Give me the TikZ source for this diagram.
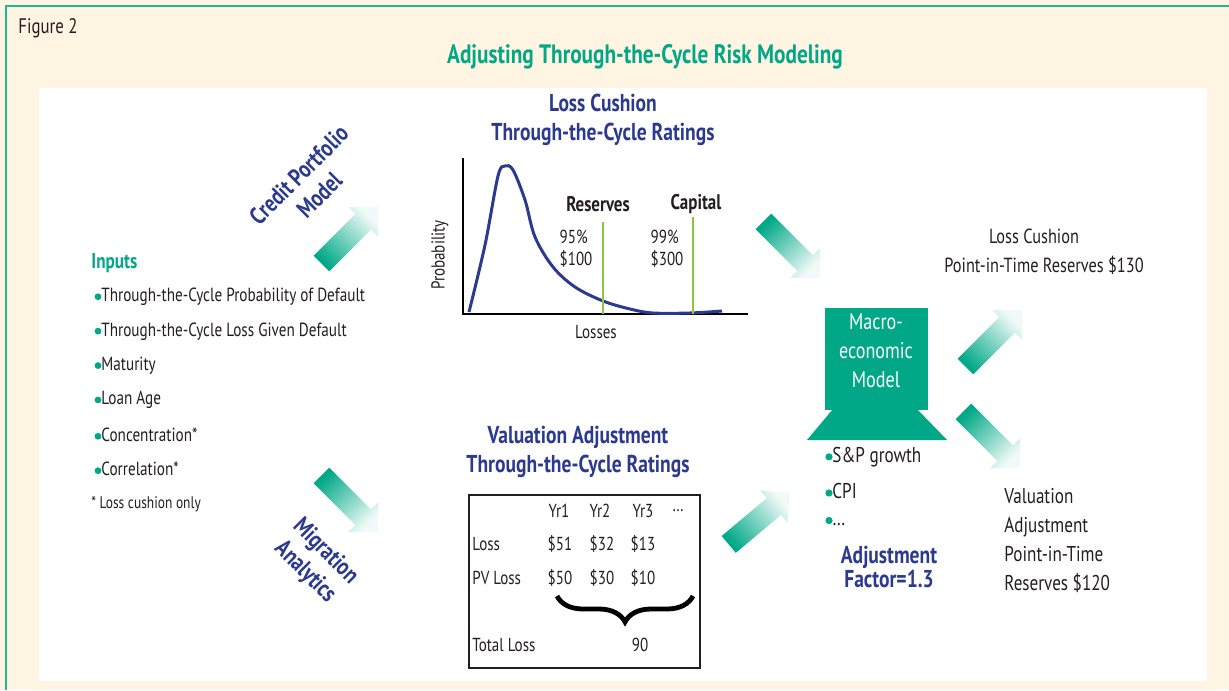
\documentclass[tikz,border=0pt]{standalone}
\usepackage{fontspec}
\setmainfont{PT Sans}[FakeStretch=0.8]
\usetikzlibrary{positioning,decorations.pathreplacing}

\definecolor{figteal}{HTML}{00A887}
\definecolor{figframe}{HTML}{1DB894}
\definecolor{figcream}{HTML}{FFF5E2}
\definecolor{fignavy}{HTML}{2B3A8F}
\definecolor{figgreen}{HTML}{8DC63F}
\definecolor{figtext}{HTML}{231F20}

% block arrow fading from teal to white: tip, direction, shading angle
\newcommand{\fadearrow}[3]{%
  \begin{scope}[shift={(#1)}, rotate=#2]
    \shade[top color=figteal!6, bottom color=figteal, shading angle=#3]
      (-80,-11) -- (-21,-11) -- (-21,-21) -- (0,0) -- (-21,21) -- (-21,11) -- (-80,11) -- cycle;
  \end{scope}}

\begin{document}
\begin{tikzpicture}[x=0.5pt, y=-0.5pt,
    every node/.style={inner sep=0pt, text=figtext},
    ttl/.style={font=\bfseries\fontsize{12.2}{14.5}\selectfont, text=fignavy, align=center},
    body/.style={font=\fontsize{9.5}{11}\selectfont, anchor=west},
    small/.style={font=\fontsize{9.4}{11}\selectfont},
    big/.style={font=\fontsize{11.3}{14.5}\selectfont},
    limitline/.style={figgreen, line width=1.3pt},
    axisline/.style={black, line width=1.2pt}]
  \useasboundingbox (0,0) rectangle (1229,690);
  \fill[figcream] (0,0) rectangle (1229,690);
  \draw[figframe, line width=1pt] (6,690) -- (6,6) -- (1229,6);
  \fill[white] (39,88) rectangle (1207,681);

  \node[anchor=west, font=\fontsize{10.5}{12}\selectfont] (fig) at (18,28) {Figure 2};
  \node[font=\bfseries\fontsize{13.3}{14}\selectfont, text=figteal] (title) at (645,57)
    {Adjusting Through-the-Cycle Risk Modeling};

  % inputs
  \node[anchor=west, font=\bfseries\fontsize{10.7}{12}\selectfont, text=figteal] (inputs) at (91,263) {Inputs};
  \foreach \txt [count=\i from 0] in {Through-the-Cycle Probability of Default,
      Through-the-Cycle Loss Given Default, Maturity, Loan Age, Concentration*, Correlation*} {
    \node[body] (input\i) at (101,297+34.4*\i) {\txt};
    \fill[figteal] ([xshift=-1.5]input\i.base west) ++(0,-5) circle (3.4);
  }
  \node[font=\fontsize{8.4}{11}\selectfont, anchor=west] (note) at (91,504) {* Loss cushion only};

  % loss distribution
  \node[ttl] (lcttl) at (603,120) {Loss Cushion\\Through-the-Cycle Ratings};
  \draw[axisline] (463,158) -- (463,314) -- (748,314);
  \draw[fignavy, line width=1.5pt] plot[smooth, tension=0.55] coordinates {(469,312) (485,245) (498,176)
    (505,166) (513,170) (525,200) (535,237) (553,267) (575,287) (603,301) (630,309) (653,313) (690,313) (722,311)};
  \draw[limitline] (603,222) -- (603,314);
  \draw[limitline] (693,217) -- (693,314);
  \node[font=\bfseries\fontsize{10.6}{11}\selectfont] (res) at (598,204) {Reserves};
  \node[font=\bfseries\fontsize{10.6}{11}\selectfont] (cap) at (696,204) {Capital};
  \node[small, align=left] (resval) at (576,249) {95\%\\\$100};
  \node[small, align=left] (capval) at (667,249) {99\%\\\$300};
  \node[small, rotate=90] (prob) at (440,255) {Probability};
  \node[small] (loss) at (596,332) {Losses};

  % valuation table
  \node[ttl] (vattl) at (578,452) {Valuation Adjustment\\Through-the-Cycle Ratings};
  \draw[figtext, line width=0.7pt] (469,495) rectangle (700,668);
  \node[small] (yr1) at (559,511) {Yr1};
  \node[small] (yr2) at (600,511) {Yr2};
  \node[small] (yr3) at (643,511) {Yr3};
  \node[small] (yrn) at (678,511) {\ldots};
  \node[small, anchor=west] (lossrow) at (472,544) {Loss};
  \node[small] (l1) at (560,544) {\$51};
  \node[small] (l2) at (602,544) {\$32};
  \node[small] (l3) at (643,544) {\$13};
  \node[small, anchor=west] (pvrow) at (472,578) {PV Loss};
  \node[small] (p1) at (560,578) {\$50};
  \node[small] (p2) at (602,578) {\$30};
  \node[small] (p3) at (643,578) {\$10};
  \draw[decorate, decoration={brace, mirror, amplitude=13pt}, line width=2.4pt] (557,596) -- (693,596);
  \node[small, anchor=west] (totrow) at (472,645) {Total Loss};
  \node[small] (tot) at (640,645) {90};

  % side labels
  \node[ttl, rotate=45] (cpm) at (309,185) {Credit Portfolio\\Model};
  \node[ttl, rotate=-45] (mig) at (315,562) {Migration\\Analytics};

  % macroeconomic model
  \fill[figteal] (825,308) rectangle (928,410);
  \fill[figteal] (833,409) -- (917,409) -- (947,440) -- (807,440) -- cycle;
  \node[big, align=center, text=white] (macro) at (876,351) {Macro-\\economic\\Model};
  \foreach \txt [count=\i from 0] in {S\&P growth, CPI, \ldots} {
    \node[anchor=west, font=\fontsize{10.7}{12}\selectfont] (drv\i) at (832,457+34*\i) {\txt};
    \fill[figteal] ([xshift=-1.5]drv\i.base west) ++(0,-5.5) circle (3.6);
  }
  \node[font=\bfseries\fontsize{12.2}{11}\selectfont, text=fignavy, align=center] (adj) at (889,567)
    {Adjustment\\Factor=1.3};

  % outputs
  \node[font=\fontsize{10.2}{14.5}\selectfont] (pitloss) at (1034,236) {Loss Cushion};
  \node[font=\fontsize{10.2}{14.5}\selectfont] (pitres) at (1044,265) {Point-in-Time Reserves \$130};
  \node[font=\fontsize{10.7}{14.5}\selectfont, align=left, anchor=west] (pitval) at (1004,540)
    {Valuation\\Adjustment\\Point-in-Time\\Reserves \$120};

  % arrows
  \coordinate (cpmTip) at (378,207);
  \coordinate (migTip) at (378,532);
  \coordinate (lcTip) at (820,278);
  \coordinate (vaTip) at (790,493);
  \coordinate (pitTip) at (1022,310);
  \coordinate (valTip) at (1020,468);
  \fadearrow{cpmTip}{45}{-45}
  \fadearrow{migTip}{-45}{-135}
  \fadearrow{lcTip}{-45}{-135}
  \fadearrow{vaTip}{40}{-50}
  \fadearrow{pitTip}{45}{-45}
  \fadearrow{valTip}{-45}{-135}
\end{tikzpicture}
\end{document}
